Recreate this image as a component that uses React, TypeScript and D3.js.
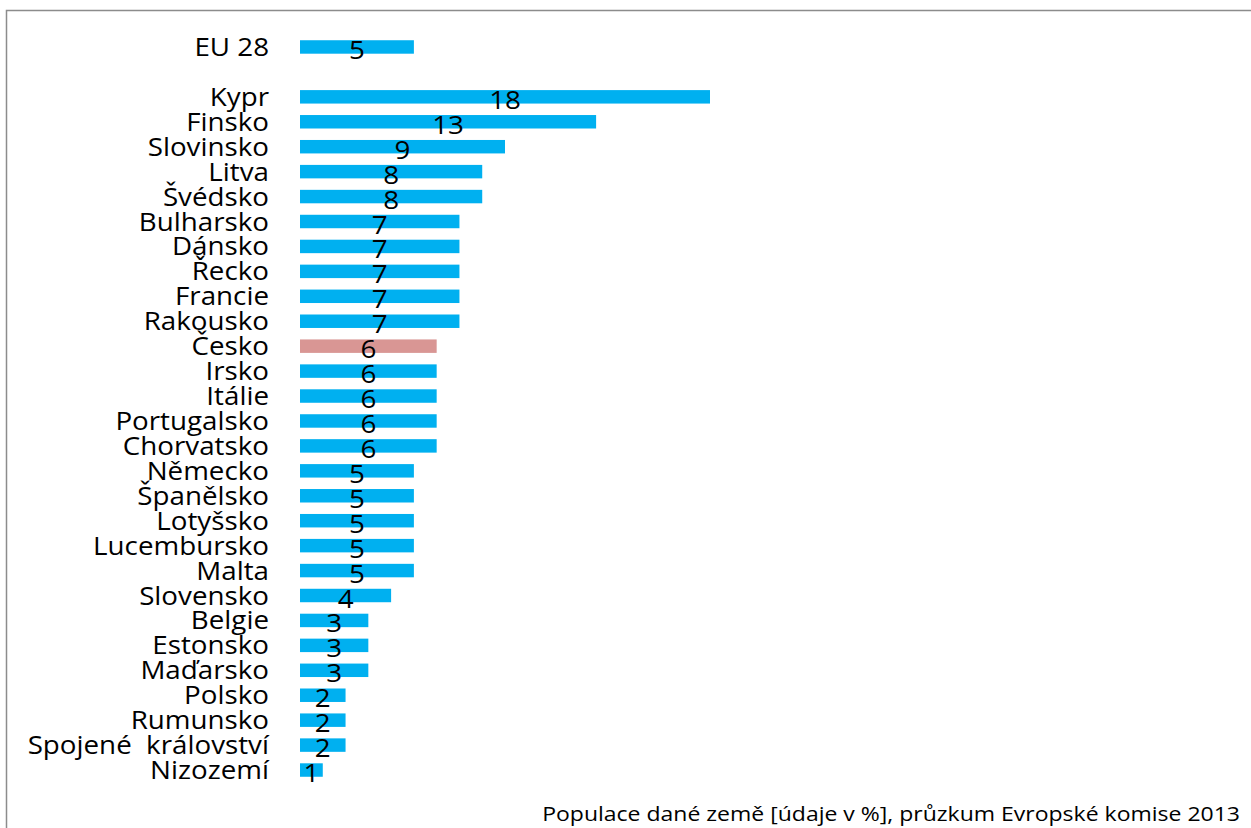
import React, { useEffect, useRef } from 'react';
import * as d3 from 'd3';

const euLabel = 'EU 28';
const euValue = 5;

const countries = [
  'Kypr', 'Finsko', 'Slovinsko', 'Litva', 'Švédsko', 'Bulharsko', 'Dánsko', 'Řecko',
  'Francie', 'Rakousko', 'Česko', 'Irsko', 'Itálie', 'Portugalsko', 'Chorvatsko',
  'Německo', 'Španělsko', 'Lotyšsko', 'Lucembursko', 'Malta', 'Slovensko', 'Belgie',
  'Estonsko', 'Maďarsko', 'Polsko', 'Rumunsko', 'Spojené  království', 'Nizozemí',
];
const values = [18, 13, 9, 8, 8, 7, 7, 7, 7, 7, 6, 6, 6, 6, 6, 5, 5, 5, 5, 5, 4, 3, 3, 3, 2, 2, 2, 1];
const highlight = 'Česko';
const footnote = 'Populace dané země [údaje v %], průzkum Evropské komise 2013';

const W = 1251;
const H = 828;

export default function App() {
  const svgRef = useRef<SVGSVGElement>(null);

  useEffect(() => {
    if (!svgRef.current) return;
    const svg = d3.select(svgRef.current);
    svg.selectAll('*').remove();

    // frame
    svg.append('rect')
      .attr('x', 6.5).attr('y', 10.5)
      .attr('width', W + 20).attr('height', H + 20)
      .attr('fill', 'white')
      .attr('stroke', '#8c8c8c').attr('stroke-width', 1.5);

    // rows: EU 28, an empty gap row, then countries
    const rows = [euLabel, '__gap', ...countries];
    const rowValues = [euValue, 0, ...values];
    const y = d3.scaleBand<string>()
      .domain(rows)
      .range([34.5, 782.5])
      .paddingInner(0.46)
      .paddingOuter(0.23);

    const x = d3.scaleLinear().domain([0, 18]).range([300, 710]);

    const data = rows.map((r, i) => ({ name: r, value: rowValues[i] })).filter(d => d.name !== '__gap');

    const font = '"Open Sans", sans-serif';
    const stretch = 1.11; // the source text is a little wider than Open Sans

    svg.append('g').selectAll('rect')
      .data(data)
      .enter()
      .append('rect')
      .attr('x', x(0))
      .attr('y', d => y(d.name)!)
      .attr('width', d => x(d.value) - x(0))
      .attr('height', y.bandwidth())
      .attr('fill', d => d.name === highlight ? '#d99694' : '#00b0f0');

    svg.append('g').selectAll('text')
      .data(data)
      .enter()
      .append('text')
      .attr('transform', d => `translate(269,${y(d.name)! + y.bandwidth() / 2}) scale(${stretch},1)`)
      .attr('dy', '0.36em')
      .attr('text-anchor', 'end')
      .style('font-family', font)
      .style('font-size', '25px')
      .style('white-space', 'pre')
      .attr('fill', '#000')
      .text(d => d.name);

    svg.append('g').selectAll('text')
      .data(data)
      .enter()
      .append('text')
      .attr('transform', d => `translate(${(x(0) + x(d.value)) / 2},${y(d.name)! + y.bandwidth() / 2 + 3}) scale(${stretch},1)`)
      .attr('dy', '0.36em')
      .attr('text-anchor', 'middle')
      .style('font-family', font)
      .style('font-size', '25px')
      .attr('fill', '#000')
      .text(d => d.value);

    svg.append('text')
      .attr('transform', 'translate(1240,821) scale(1.15,1)')
      .attr('text-anchor', 'end')
      .style('font-family', font)
      .style('font-size', '20px')
      .attr('fill', '#000')
      .text(footnote);
  }, []);

  return (
    <svg
      ref={svgRef}
      width={W}
      height={H}
      style={{ position: 'absolute', left: 0, top: 0, display: 'block' }}
    />
  );
}
